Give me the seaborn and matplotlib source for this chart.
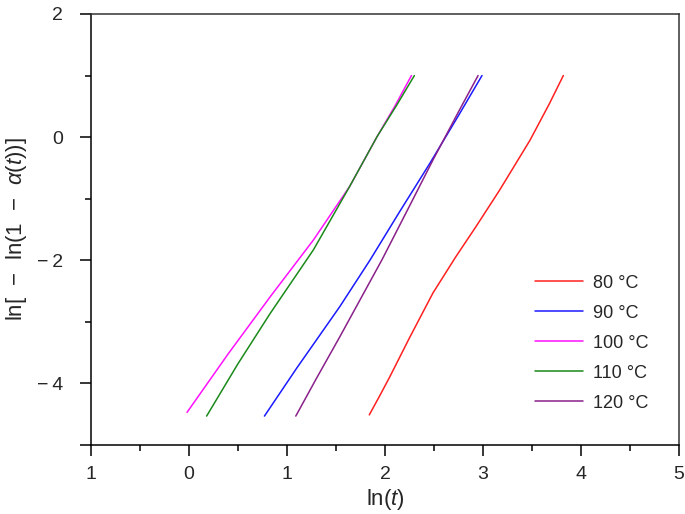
import numpy as np
import pandas as pd
import matplotlib
matplotlib.use("Agg")
import matplotlib.pyplot as plt
import seaborn as sns
from matplotlib.ticker import FixedLocator, FixedFormatter

# Avrami plot data: ln(t) vs ln[-ln(1-alpha(t))]
labels = ["80 °C", "90 °C", "100 °C", "110 °C", "120 °C"]
colors = ["#ff2020", "#1a1aff", "#ff10ff", "#1a8a1a", "#8a208a"]

x_80 = [1.84, 1.95, 2.05, 2.25, 2.49, 2.72, 2.93, 3.17, 3.48, 3.68, 3.82]
y_80 = [-4.51, -4.19, -3.89, -3.26, -2.53, -1.95, -1.45, -0.86, -0.05, 0.55, 1.00]

x_90 = [0.77, 1.10, 1.54, 1.85, 2.15, 2.46, 2.75, 2.99]
y_90 = [-4.53, -3.75, -2.75, -1.99, -1.21, -0.42, 0.35, 1.00]

x_100 = [-0.02, 0.40, 0.83, 1.27, 1.64, 1.92, 2.10, 2.27]
y_100 = [-4.47, -3.52, -2.59, -1.67, -0.80, 0.01, 0.50, 1.00]

x_110 = [0.18, 0.50, 0.83, 1.27, 1.64, 1.92, 2.12, 2.30]
y_110 = [-4.53, -3.68, -2.86, -1.83, -0.80, 0.01, 0.52, 1.00]

x_120 = [1.09, 1.30, 1.54, 1.97, 2.25, 2.49, 2.75, 2.95]
y_120 = [-4.53, -3.92, -3.24, -1.99, -1.12, -0.37, 0.41, 1.00]

x_ticks = [-1, 0, 1, 2, 3, 4, 5]
x_ticklabels = ["1", "0", "1", "2", "3", "4", "5"]
y_ticks = [-5, -4, -2, 0, 2]
y_ticklabels = ["", "\u2212\u20094", "\u2212\u20092", "0", "2"]

xs = [x_80, x_90, x_100, x_110, x_120]
ys = [y_80, y_90, y_100, y_110, y_120]

frames = []
for lab, xv, yv in zip(labels, xs, ys):
    frames.append(pd.DataFrame({"lnt": xv, "lnk": yv, "T": lab}))
df = pd.concat(frames, ignore_index=True)

sns.set_style("white")
plt.rcParams["font.family"] = ["Liberation Sans", "DejaVu Sans"]
plt.rcParams["mathtext.fontset"] = "custom"
plt.rcParams["mathtext.rm"] = "Liberation Sans"
plt.rcParams["mathtext.it"] = "Liberation Sans:italic"

fig = plt.figure(figsize=(6.85, 5.14), dpi=100)
ax = fig.add_axes([0.1328, 0.1342, 0.8584, 0.8386])

sns.lineplot(data=df, x="lnt", y="lnk", hue="T", palette=colors,
             sort=False, estimator=None, lw=1.1, ax=ax)

ax.set_xlim(-1, 5)
ax.set_ylim(-5, 2)

# ticks
ax.xaxis.set_major_locator(FixedLocator(x_ticks))
ax.xaxis.set_major_formatter(FixedFormatter(x_ticklabels))
ax.xaxis.set_minor_locator(FixedLocator([-0.5, 0.5, 1.5, 2.5, 3.5, 4.5]))
ax.yaxis.set_major_locator(FixedLocator(y_ticks))
ax.yaxis.set_major_formatter(FixedFormatter(y_ticklabels))
ax.yaxis.set_minor_locator(FixedLocator([-3, -1, 1]))
ax.tick_params(axis="both", which="major", direction="out", length=8, width=1.1,
               color="black", labelsize=14, bottom=True, left=True, top=False, right=False)
ax.tick_params(axis="both", which="minor", direction="out", length=4, width=1.1,
               color="black", bottom=True, left=True, top=False, right=False)
ax.tick_params(axis="x", which="major", pad=7)
ax.tick_params(axis="y", which="major", pad=12)

for s in ax.spines.values():
    s.set_visible(True)
    s.set_color("black")
    s.set_linewidth(1.1)
ax.spines["top"].set_color("#333333")
ax.spines["right"].set_color("#333333")

ax.set_xlabel(r"ln($t$)", fontsize=16, labelpad=3)
ax.set_ylabel(r"ln[  $-$  ln(1  $-$  $\alpha$($t$))]", fontsize=16, labelpad=6)

leg = ax.legend(loc="lower right", bbox_to_anchor=(0.975, 0.04), frameon=False,
                fontsize=13, handlelength=2.7, handletextpad=0.5, labelspacing=0.72,
                title=None)
for line in leg.get_lines():
    line.set_linewidth(1.1)

fig.savefig("out.png", dpi=100)
